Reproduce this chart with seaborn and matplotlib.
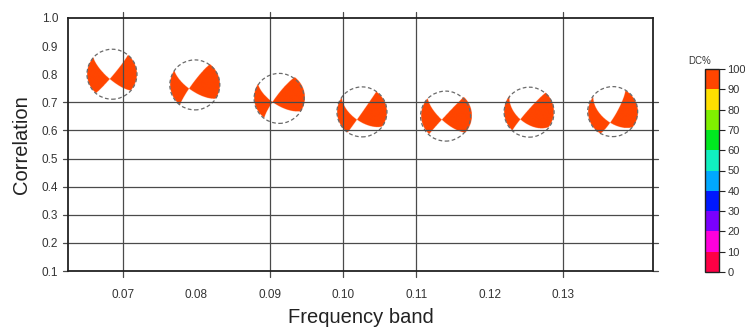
import numpy as np
import matplotlib
matplotlib.use("Agg")
import matplotlib.pyplot as plt
import matplotlib.colors as mcolors
from matplotlib.patches import Ellipse
import seaborn as sns
import pandas as pd

# ---- data ----
band_ticks = [0.07, 0.08, 0.09, 0.10, 0.11, 0.12, 0.13]
band_labels = ["0.07", "0.08", "0.09", "0.10", "0.11", "0.12", "0.13"]
ball_band = [0.0685, 0.0798, 0.0913, 0.1026, 0.1140, 0.1254, 0.1368]
correlation = [0.800, 0.762, 0.714, 0.666, 0.651, 0.665, 0.667]
dc_percent = [100, 100, 100, 100, 100, 100, 100]
strike = [40, 217, 217, 35, 223, 222, 30]
dip = [85, 82, 80, 89, 88, 85, 79]
rake = [-17, 22, 25, -30, 20, 38, -35]
grid_x = [0.07, 0.09, 0.10, 0.11, 0.13]
grid_y = [0.2, 0.3, 0.4, 0.5, 0.6, 0.7]
ytick_vals = [0.1, 0.2, 0.3, 0.4, 0.5, 0.6, 0.7, 0.8, 0.9, 1.0]
dc_bounds = [0, 10, 20, 30, 40, 50, 60, 70, 80, 90, 100]
dc_colors = ["#FF0045", "#FF00DC", "#7A00FF", "#0018FF", "#00A8FF",
             "#10F0C0", "#00E820", "#80F000", "#FFE000", "#FF4500"]

sns.set_theme(style="white")
plt.rcParams["font.family"] = ["Liberation Sans", "DejaVu Sans"]

W, H = 745, 331
fig = plt.figure(figsize=(W / 100, H / 100), dpi=100)
L, R, T, B = 68, 653, 18, 271
ax = fig.add_axes([L / W, 1 - B / H, (R - L) / W, (B - T) / H])
xlim = (0.0625, 0.1423)
ylim = (0.1, 1.0)

cmap = mcolors.ListedColormap(dc_colors)
norm = mcolors.BoundaryNorm(dc_bounds, cmap.N)

df = pd.DataFrame({"band": ball_band, "corr": correlation, "dc": dc_percent})

# white disc background for each beachball
rad_px = 25.0
sns.scatterplot(data=df, x="band", y="corr", ax=ax, s=(2 * rad_px * 0.72) ** 2,
                color="white", edgecolor="none", linewidth=0, zorder=2, legend=False)

# beachball rendering (lower hemisphere, equal area)
rx = rad_px / (R - L) * (xlim[1] - xlim[0])
ry = rad_px / (B - T) * (ylim[1] - ylim[0])
n = 241
gx, gy = np.meshgrid(np.linspace(-1, 1, n), np.linspace(1, -1, n))
rho = np.hypot(gx, gy)
inside = rho <= 1.0
inc = 2 * np.arcsin(np.clip(rho / np.sqrt(2), 0, 1))
az = np.arctan2(gx, gy)
rN = np.sin(inc) * np.cos(az)
rE = np.sin(inc) * np.sin(az)
rD = np.cos(inc)

for i in range(len(ball_band)):
    ph, de, la = np.radians([strike[i], dip[i], rake[i]])
    nv = np.array([-np.sin(de) * np.sin(ph), np.sin(de) * np.cos(ph), -np.cos(de)])
    dv = np.array([np.cos(la) * np.cos(ph) + np.cos(de) * np.sin(la) * np.sin(ph),
                   np.cos(la) * np.sin(ph) - np.cos(de) * np.sin(la) * np.cos(ph),
                   -np.sin(la) * np.sin(de)])
    pol = (rN * nv[0] + rE * nv[1] + rD * nv[2]) * (rN * dv[0] + rE * dv[1] + rD * dv[2])
    col = np.array(mcolors.to_rgba(cmap(norm(dc_percent[i] - 0.5))))
    img = np.ones((n, n, 4))
    img[pol > 0] = col
    img[~inside, 3] = 0
    x0, y0 = ball_band[i], correlation[i]
    ax.imshow(img, extent=[x0 - rx, x0 + rx, y0 - ry, y0 + ry], aspect="auto",
              zorder=3, interpolation="antialiased")
    ax.add_patch(Ellipse((x0, y0), 2 * rx, 2 * ry, fill=False, edgecolor="#6a6a6a",
                         lw=0.9, linestyle=(0, (3, 2)), zorder=4))

# grid lines (extending past the frame)
for gxv in grid_x:
    ax.plot([gxv, gxv], [-0.025, 1.025], color="#4a4a4a", lw=0.9, zorder=5,
            transform=ax.get_xaxis_transform(), clip_on=False)
for gyv in grid_y:
    ax.plot([-0.009, 1.009], [gyv, gyv], color="#4a4a4a", lw=0.9, zorder=5,
            transform=ax.get_yaxis_transform(), clip_on=False)
ax.plot([-0.009, 0], [0.1, 0.1], color="#4a4a4a", lw=0.9, zorder=5,
        transform=ax.get_yaxis_transform(), clip_on=False)
ax.plot([1, 1.009], [0.1, 0.1], color="#4a4a4a", lw=0.9, zorder=5,
        transform=ax.get_yaxis_transform(), clip_on=False)

ax.set_xlim(*xlim)
ax.set_ylim(*ylim)
ax.set_xticks(band_ticks)
ax.set_xticklabels(band_labels)
ax.set_yticks(ytick_vals)
ax.set_yticklabels([f"{v:.1f}" for v in ytick_vals])
ax.tick_params(axis="x", length=0, pad=13, labelsize=8.5, labelcolor="#333333")
ax.tick_params(axis="y", length=0, pad=7, labelsize=8.5, labelcolor="#333333")
for sp in ax.spines.values():
    sp.set_visible(True)
    sp.set_color("#222222")
    sp.set_linewidth(1.3)
    sp.set_zorder(6)
ax.set_xlabel("Frequency band", fontsize=14.5, color="#222222", labelpad=5)
ax.set_ylabel("Correlation", fontsize=14.5, color="#222222", labelpad=8)
ax.grid(False)

# colorbar
cax = fig.add_axes([705 / W, 1 - 272 / H, 14 / W, 203 / H])
cb = matplotlib.colorbar.ColorbarBase(cax, cmap=cmap, norm=norm, boundaries=dc_bounds,
                                      ticks=dc_bounds, orientation="vertical")
cb.outline.set_edgecolor("#222222")
cb.outline.set_linewidth(1.0)
cax.tick_params(axis="y", length=4, width=0.8, color="#222222", labelsize=8,
                labelcolor="#333333", pad=2, right=True)
cb.set_ticklabels([str(v) for v in dc_bounds])
fig.text(700 / W, 1 - 61 / H, "DC%", fontsize=7, color="#333333", ha="center", va="center")

fig.savefig("out.png", dpi=100)
